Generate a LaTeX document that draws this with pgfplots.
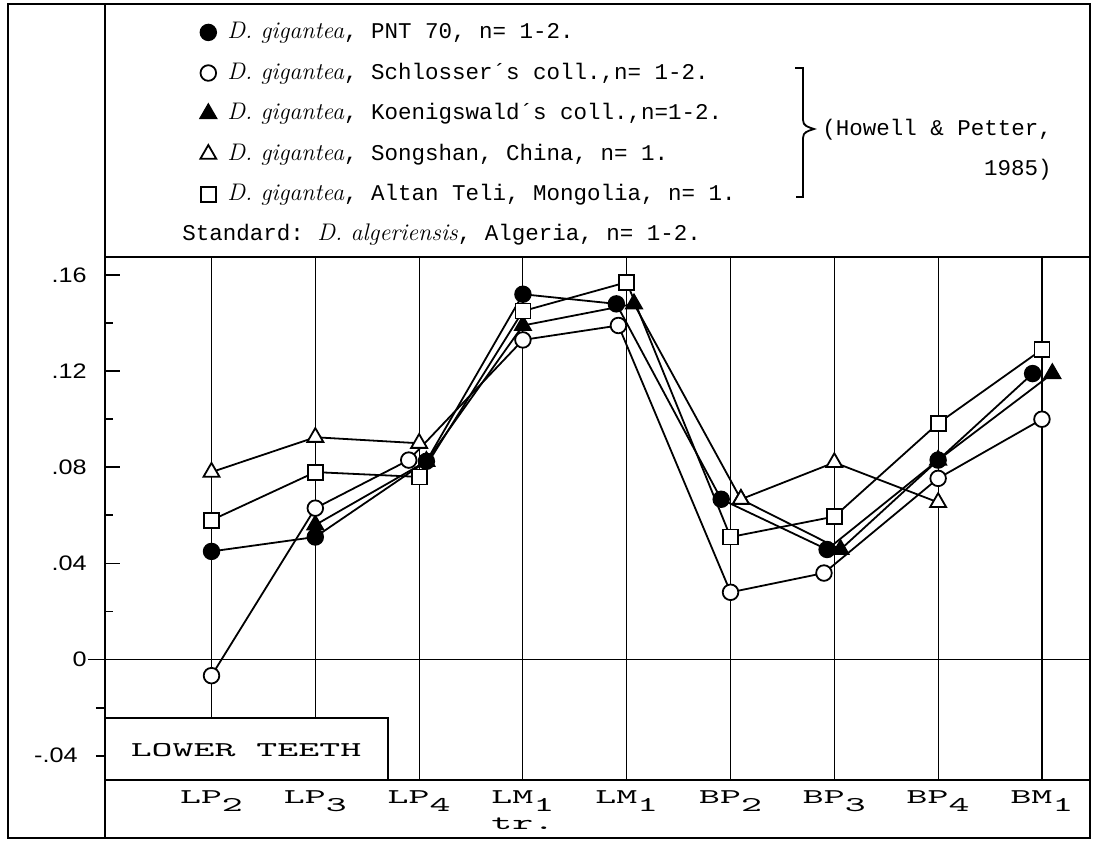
\documentclass[border=0pt]{standalone}
\usepackage{fontspec}
\setmonofont{Liberation Mono}
\setsansfont{Liberation Sans}
\newfontfamily\widemono{Latin Modern Mono}[FakeStretch=1.9]
\newfontfamily\ysans{Liberation Sans}[FakeStretch=1.2]
\usepackage{pgfplots}
\usepackage{pgfplotstable}
\pgfplotsset{compat=1.18}

\newcommand\lab[2]{#1\raisebox{-4pt}{#2}}
\newcommand\spec[1]{{\rmfamily\itshape\fontsize{12}{13}\selectfont #1}}

% x: 0 LP2, 1 LP3, 2 LP4, 3 LM1 tr., 4 LM1, 5 BP2, 6 BP3, 7 BP4, 8 BM1
\pgfplotstableread{
x y
0 0.045
1 0.051
2.07 0.0825
3 0.152
3.9 0.148
4.91 0.0667
5.93 0.0458
7 0.083
7.91 0.119
}\pnt

\pgfplotstableread{
x y
0 -0.0067
1 0.063
1.9 0.083
3 0.133
3.92 0.139
5 0.028
5.9 0.036
7 0.0754
8 0.100
}\schl

\pgfplotstableread{
x y
1 0.056
2.07 0.0825
3 0.139
4.07 0.148
5.1 0.0667
6.06 0.0458
7 0.083
8.1 0.119
}\koen

\pgfplotstableread{
x y
0 0.078
1 0.0925
2 0.090
3 nan
4 nan
5.1 0.0667
6 0.082
7 0.0654
}\song

\pgfplotstableread{
x y
0 0.058
1 0.078
2 0.076
3 0.145
4 0.157
5 0.051
6 0.0595
7 0.0983
8 0.129
}\altan

\begin{document}
\begin{tikzpicture}
\begin{axis}[
  name=ax,
  scale only axis, width=492.5pt, height=261.5pt,
  xmin=-1.026, xmax=8.463, ymin=-0.0501, ymax=0.1675,
  clip=false,
  axis line style={line width=1pt},
  xtick={0,...,8},
  xticklabels={\lab{LP}{2}, \lab{LP}{3}, \lab{LP}{4}, {\lab{LM}{1}\\[1pt]tr.}, \lab{LM}{1}, \lab{BP}{2}, \lab{BP}{3}, \lab{BP}{4}, \lab{BM}{1}},
  xtick style={draw=none},
  xmajorgrids, grid style={black, line width=0.55pt},
  ytick={0,0.04,0.08,0.12,0.16},
  yticklabels={{0\hspace{7.5pt}},.04,.08,.12,.16},
  minor ytick={0.02,0.06,0.10,0.14},
  extra y ticks={-0.04,-0.02},
  extra y tick labels={-.04,{}},
  extra y tick style={tick align=outside, major tick length=4.5pt},
  ytick pos=left,
  tick align=inside,
  major tick length=7.5pt, minor tick length=4pt,
  ytick style={black, line width=0.9pt},
  yticklabel style={font=\ysans\fontsize{10.5}{12}\selectfont, inner sep=0pt, xshift=-9pt},
  xticklabel style={font=\widemono\fontsize{10.5}{12}\selectfont, align=left, anchor=north, inner sep=0pt, yshift=-5pt},
  unbounded coords=jump,
  legend cell align=left,
  legend style={at={(0.0964,1.4493)}, anchor=north west, draw=none, fill=none, inner sep=0pt,
    font=\ttfamily\fontsize{11.25}{13}\selectfont, row sep=10.3pt,
    nodes={inner sep=0pt, text height=8pt, text depth=2pt},
    /tikz/every odd column/.append style={column sep=5.5pt}},
  legend image code/.code={\draw[#1] plot coordinates {(0pt,0pt)};},
]
\addlegendimage{black, line width=0.9pt, mark=*, mark size=3.9pt}
\addlegendentry{\spec{D. gigantea}, PNT 70, n= 1-2.}
\addlegendimage{black, line width=0.9pt, mark=*, mark size=3.9pt, mark options={fill=white}}
\addlegendentry{\spec{D. gigantea}, Schlosser´s coll.,n= 1-2.}
\addlegendimage{black, line width=0.9pt, mark=triangle*, mark size=4.6pt}
\addlegendentry{\spec{D. gigantea}, Koenigswald´s coll.,n=1-2.}
\addlegendimage{black, line width=0.9pt, mark=triangle*, mark size=4.6pt, mark options={fill=white}}
\addlegendentry{\spec{D. gigantea}, Songshan, China, n= 1.}
\addlegendimage{black, line width=0.9pt, mark=square*, mark size=3.75pt, mark options={fill=white}}
\addlegendentry{\spec{D. gigantea}, Altan Teli, Mongolia, n= 1.}

% zero line
\draw[line width=0.8pt] (axis cs:-1.19,0) -- (axis cs:8.463,0);

% lines first
\addplot[black, line width=0.9pt, no markers, forget plot] table {\koen};
\addplot[black, line width=0.9pt, no markers, forget plot] table {\pnt};
\addplot[black, line width=0.9pt, no markers, forget plot] table {\schl};
\addplot[black, line width=0.9pt, no markers, forget plot] table {\song};
\addplot[black, line width=0.9pt, no markers, forget plot] table {\altan};

% then marks
\addplot[only marks, forget plot, mark=triangle*, mark size=4.6pt, mark options={black, fill=black, line width=0.9pt}] table {\koen};
\addplot[only marks, forget plot, mark=*, mark size=3.9pt, mark options={black, fill=black, line width=0.9pt}] table {\pnt};
\addplot[only marks, forget plot, mark=*, mark size=3.9pt, mark options={black, fill=white, line width=0.9pt}] table {\schl};
\addplot[only marks, forget plot, mark=triangle*, mark size=4.6pt, mark options={black, fill=white, line width=0.9pt}] table {\song};
\addplot[only marks, forget plot, mark=square*, mark size=3.75pt, mark options={black, fill=white, line width=0.9pt}] table {\altan};
\end{axis}

\begin{scope}[shift={(ax.south west)}, shift={(-52.5pt,390pt)}, x=0.5pt, y=-0.5pt,
  every node/.style={inner sep=0pt, text height=8pt, text depth=2pt}]
  \draw[line width=1pt] (8,4) rectangle (1090,838);
  \draw[line width=1pt] (105,4) -- (105,838);
  \draw[line width=1pt, fill=white] (105,718) rectangle (388,780);
  \node[font=\widemono\fontsize{10.5}{12.5}\selectfont] at (246,751) {LOWER TEETH};
  \node[anchor=west, font=\ttfamily\fontsize{11.25}{13}\selectfont] at (182,235)
    {Standard: \spec{D. algeriensis}, Algeria, n= 1-2.};
  \draw[line width=0.9pt] (795,68) -- (803,68) -- (803,120)
    .. controls (803,126) and (808,127) .. (814,129)
    .. controls (808,131) and (803,132) .. (803,138) -- (803,197) -- (796,197);
  \node[anchor=west, font=\ttfamily\fontsize{11.25}{13}\selectfont] at (822,130) {(Howell \& Petter,};
  \node[anchor=east, font=\ttfamily\fontsize{11.25}{13}\selectfont] at (1052,170) {1985)};
  \pgfresetboundingbox
  \useasboundingbox (0,0) rectangle (1099,845);
\end{scope}
\end{tikzpicture}
\end{document}
